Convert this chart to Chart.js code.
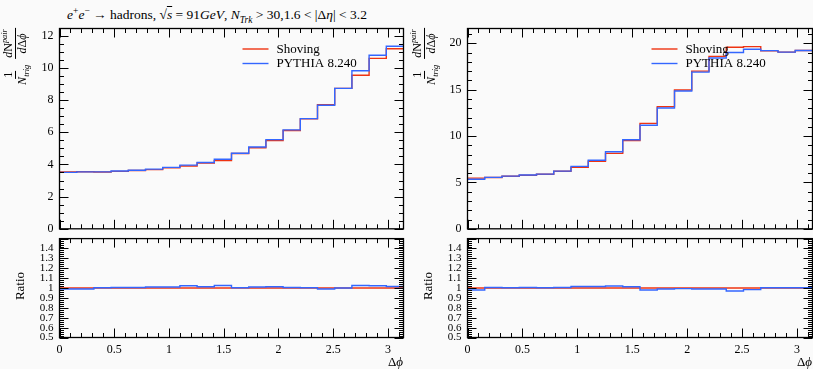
<!DOCTYPE html>
<html>
<head>
<meta charset="utf-8">
<script src="https://cdn.jsdelivr.net/npm/chart.js@4.4.1/dist/chart.umd.min.js"></script>
<style>
  body { margin: 0; background: #fafafa; width: 813px; height: 369px; overflow: hidden; position: relative;
         font-family: 'Liberation Serif', 'DejaVu Serif', serif; color: #000; }
  canvas { position: absolute; }
  .txt { position: absolute; white-space: nowrap; transform: translate(-50%, -50%); }
  .rot { position: absolute; white-space: nowrap; transform: translate(-50%, -50%) rotate(-90deg); }
  .fr { display: inline-flex; flex-direction: column; align-items: center; vertical-align: middle; margin: 0 1px; }
  .fr .n { border-bottom: 1.8px solid #000; line-height: 1.1; padding: 0 1px; }
  .fr .d { line-height: 1.15; padding: 0 1px; }
  sub, sup { font-size: 70%; line-height: 0; }
  .xl { position: absolute; font-size: 13px; text-align: right; }
</style>
</head>
<body>
<div class="txt" style="left:217px;top:15px;font-size:13.5px">
  <i>e</i><sup>+</sup><i>e</i><sup>&minus;</sup> &rarr; hadrons, &radic;<span style="text-decoration:overline"><i>s</i></span> = 91<i>GeV</i>,
  <i>N</i><sub><i>Trk</i></sub> &gt; 30,1.6 &lt; |&Delta;<i>&eta;</i>| &lt; 3.2
</div>

<canvas id="mainL" width="406" height="242" style="left:0;top:0"></canvas>
<canvas id="ratioL" width="406" height="143" style="left:0;top:226px"></canvas>
<canvas id="mainR" width="407" height="242" style="left:406px;top:0"></canvas>
<canvas id="ratioR" width="407" height="143" style="left:406px;top:226px"></canvas>

<div class="rot" style="left:16px;top:57px;font-size:12px">
  <span class="fr"><span class="n">1</span><span class="d"><i>N</i><sub><i>trig</i></sub></span></span>
  <span class="fr"><span class="n"><i>d</i>N<sup><i>pair</i></sup></span><span class="d"><i>d</i>&Delta;<i>&#981;</i></span></span>
</div>
<div class="rot" style="left:425px;top:57px;font-size:12px">
  <span class="fr"><span class="n">1</span><span class="d"><i>N</i><sub><i>trig</i></sub></span></span>
  <span class="fr"><span class="n"><i>d</i>N<sup><i>pair</i></sup></span><span class="d"><i>d</i>&Delta;<i>&#981;</i></span></span>
</div>
<div class="rot" style="left:20px;top:286px;font-size:13px">Ratio</div>
<div class="rot" style="left:428px;top:286px;font-size:13px">Ratio</div>
<div class="xl" style="right:410px;top:354px">&Delta;<i>&#981;</i></div>
<div class="xl" style="right:1px;top:354px">&Delta;<i>&#981;</i></div>

<script>
// --- data (20 bins in delta phi from 0 to pi) ---
const binCount = 20;
const phiMax = Math.PI;
const seriesNames = ['Shoving', 'PYTHIA 8.240'];

const leftShoving = [3.53, 3.55, 3.53, 3.57, 3.62, 3.68, 3.79, 3.90, 4.09, 4.24,
                     4.68, 5.04, 5.48, 6.11, 6.83, 7.72, 8.73, 9.54, 10.59, 11.19];
const leftPythia  = [3.51, 3.54, 3.54, 3.59, 3.64, 3.71, 3.82, 3.96, 4.12, 4.32,
                     4.70, 5.08, 5.54, 6.15, 6.85, 7.68, 8.73, 9.82, 10.79, 11.35];
const leftRatio   = [0.99, 0.99, 1.003, 1.006, 1.006, 1.01, 1.01, 1.023, 1.013, 1.026,
                     1.003, 1.01, 1.013, 1.006, 1.003, 0.99, 1.0, 1.026, 1.023, 1.016];

const rightShoving = [5.46, 5.53, 5.66, 5.77, 5.88, 6.20, 6.62, 7.29, 8.13, 9.51,
                      11.37, 13.17, 14.96, 17.00, 18.59, 19.58, 19.65, 19.19, 19.05, 19.23];
const rightPythia  = [5.35, 5.55, 5.68, 5.80, 5.90, 6.22, 6.73, 7.39, 8.31, 9.61,
                      11.16, 13.03, 14.86, 16.90, 18.42, 19.01, 19.37, 19.21, 19.05, 19.23];
const rightRatio   = [0.98, 1.006, 1.003, 1.006, 1.003, 1.006, 1.016, 1.016, 1.02, 1.013,
                      0.98, 0.99, 0.994, 0.99, 0.99, 0.97, 0.984, 1.003, 1.003, 1.003];

const refRatio = [1, 1, 1, 1, 1, 1, 1, 1, 1, 1, 1, 1, 1, 1, 1, 1, 1, 1, 1, 1];

// tick labels
const xTickValues = [0, 0.5, 1, 1.5, 2, 2.5, 3];
const xTickLabels = ['0', '0.5', '1', '1.5', '2', '2.5', '3'];
const leftYTicks = [0, 2, 4, 6, 8, 10, 12];
const rightYTicks = [0, 5, 10, 15, 20];
const ratioTickValues = [0.5, 0.6, 0.7, 0.8, 0.9, 1.0, 1.1, 1.2, 1.3, 1.4];
const ratioTickLabels = ['0.5', '0.6', '0.7', '0.8', '0.9', '1', '1.1', '1.2', '1.3', '1.4'];

const RED = '#ee3311';
const BLUE = '#3366ff';

Chart.defaults.font.family = "'Liberation Serif', 'DejaVu Serif', serif";
Chart.defaults.color = '#000';

function stepPoints(vals) {
    const pts = vals.map((v, i) => ({ x: i * phiMax / binCount, y: v }));
    pts.push({ x: phiMax, y: vals[vals.length - 1] });
    return pts;
}

// frame with inward ticks on all four sides
const frameTicks = {
    id: 'frameTicks',
    afterDatasetsDraw(chart, args, o) {
        const { ctx, chartArea: a, scales: { x, y } } = chart;
        ctx.save();
        ctx.strokeStyle = '#000';
        ctx.lineWidth = 1;
        ctx.beginPath();
        const nx = Math.floor((x.max - x.min) / o.xMinor + 1e-6);
        for (let i = 0; i <= nx; i++) {
            const px = Math.round(x.getPixelForValue(x.min + i * o.xMinor)) + 0.5;
            const len = i % o.xEvery === 0 ? 9 : 4.5;
            ctx.moveTo(px, a.bottom); ctx.lineTo(px, a.bottom - len);
            ctx.moveTo(px, a.top); ctx.lineTo(px, a.top + len);
        }
        const ny = Math.floor((y.max - y.min) / o.yMinor + 1e-6);
        for (let i = 0; i <= ny; i++) {
            const py = Math.round(y.getPixelForValue(y.min + i * o.yMinor)) + 0.5;
            const len = i % o.yEvery === 0 ? 9 : 4.5;
            ctx.moveTo(a.left, py); ctx.lineTo(a.left + len, py);
            ctx.moveTo(a.right, py); ctx.lineTo(a.right - len, py);
        }
        ctx.stroke();
        ctx.lineWidth = 1.3;
        ctx.strokeRect(a.left, a.top, a.right - a.left, a.bottom - a.top);
        ctx.restore();
    }
};

// legend drawn inside the plot area
const inPlotLegend = {
    id: 'inPlotLegend',
    afterDraw(chart, args, o) {
        if (!o.show) return;
        const { ctx, chartArea: a } = chart;
        ctx.save();
        ctx.font = "13px 'Liberation Serif', serif";
        ctx.textBaseline = 'middle';
        ctx.fillStyle = '#000';
        chart.data.datasets.forEach((ds, i) => {
            const yy = a.top + 20.5 + i * 14.5;
            ctx.strokeStyle = ds.borderColor;
            ctx.lineWidth = 1.4;
            ctx.beginPath();
            ctx.moveTo(a.right - 161, yy); ctx.lineTo(a.right - 135, yy);
            ctx.stroke();
            ctx.fillText(ds.label, a.right - 127, yy + 0.5);
        });
        ctx.restore();
    }
};

function makeChart(id, opt) {
    return new Chart(document.getElementById(id), {
        type: 'line',
        data: {
            datasets: [
                { label: seriesNames[0], data: stepPoints(opt.red), borderColor: RED, borderWidth: 1.4,
                  stepped: true, pointRadius: 0, fill: false, order: 1 },
                { label: seriesNames[1], data: stepPoints(opt.blue), borderColor: BLUE, borderWidth: 1.4,
                  stepped: true, pointRadius: 0, fill: false, order: 0 }
            ]
        },
        options: {
            responsive: false,
            animation: false,
            events: [],
            layout: { padding: opt.padding },
            plugins: {
                legend: { display: false },
                tooltip: { enabled: false },
                inPlotLegend: { show: opt.legend },
                frameTicks: opt.minor
            },
            scales: {
                x: {
                    type: 'linear', min: 0, max: phiMax,
                    afterBuildTicks: s => { s.ticks = xTickValues.map(v => ({ value: v })); },
                    ticks: { display: opt.xLabels, autoSkip: false, maxRotation: 0, padding: 5,
                             font: { size: 12 }, callback: (v, i) => xTickLabels[i] },
                    grid: { display: false, drawTicks: false },
                    border: { display: false },
                    afterFit: s => { s.height = opt.xHeight; }
                },
                y: {
                    min: opt.yMin, max: opt.yMax,
                    afterBuildTicks: s => { s.ticks = opt.yTicks.map(v => ({ value: v })); },
                    ticks: { autoSkip: false, padding: 6, font: { size: opt.yFont },
                             callback: (v, i) => opt.yLabels[i] },
                    grid: { display: false, drawTicks: false },
                    border: { display: false },
                    afterFit: s => { s.width = opt.yWidth; }
                }
            }
        },
        plugins: [frameTicks, inPlotLegend]
    });
}

makeChart('mainL', {
    red: leftShoving, blue: leftPythia, yMin: 0, yMax: 12.45,
    yTicks: leftYTicks, yLabels: leftYTicks.map(String), yFont: 12, yWidth: 59.5,
    padding: { top: 28.5, right: 2.5, bottom: 7.5, left: 0 },
    xLabels: false, xHeight: 0, legend: true,
    minor: { xMinor: 0.1, xEvery: 5, yMinor: 0.5, yEvery: 4 }
});
makeChart('ratioL', {
    red: refRatio, blue: leftRatio, yMin: 0.5, yMax: 1.5,
    yTicks: ratioTickValues, yLabels: ratioTickLabels, yFont: 11, yWidth: 59.5,
    padding: { top: 8.5, right: 2.5, bottom: 0, left: 0 },
    xLabels: true, xHeight: 31.5, legend: false,
    minor: { xMinor: 0.1, xEvery: 5, yMinor: 0.02, yEvery: 5 }
});
makeChart('mainR', {
    red: rightShoving, blue: rightPythia, yMin: 0, yMax: 21.6,
    yTicks: rightYTicks, yLabels: rightYTicks.map(String), yFont: 12, yWidth: 61.5,
    padding: { top: 28.5, right: 0.5, bottom: 7.5, left: 0 },
    xLabels: false, xHeight: 0, legend: true,
    minor: { xMinor: 0.1, xEvery: 5, yMinor: 1, yEvery: 5 }
});
makeChart('ratioR', {
    red: refRatio, blue: rightRatio, yMin: 0.5, yMax: 1.5,
    yTicks: ratioTickValues, yLabels: ratioTickLabels, yFont: 11, yWidth: 61.5,
    padding: { top: 8.5, right: 0.5, bottom: 0, left: 0 },
    xLabels: true, xHeight: 31.5, legend: false,
    minor: { xMinor: 0.1, xEvery: 5, yMinor: 0.02, yEvery: 5 }
});
</script>
</body>
</html>
